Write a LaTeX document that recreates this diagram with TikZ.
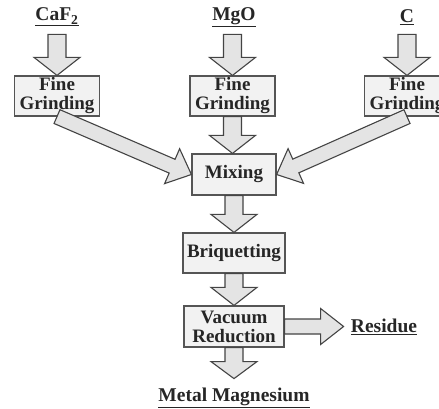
\documentclass[tikz,border=0pt]{standalone}
\usepackage{fontspec}
\setmainfont{Liberation Serif}
\usetikzlibrary{calc}
\definecolor{boxfill}{HTML}{F2F2F2}
\definecolor{boxline}{HTML}{555555}
\definecolor{arrfill}{HTML}{E4E4E4}
\definecolor{arrline}{HTML}{444444}
\definecolor{txt}{HTML}{262626}
\tikzset{
  procbox/.style={draw=boxline, fill=boxfill, line width=1.2pt, minimum width=85pt,
    minimum height=40pt, inner sep=0pt, align=center,
    font=\fontsize{19}{19}\selectfont\bfseries, text=txt},
  lab/.style={font=\fontsize{19.5}{20}\selectfont\bfseries, text=txt, inner sep=0pt},
  flowarr/.style={draw=arrline, fill=arrfill, line width=1.1pt, line join=miter},
}
% #1 shaft half width, #2 head half width, #3 head length, #4 from, #5 to
\newcommand{\flowarrow}[5]{%
  \coordinate (fa-h) at ($(#5)!#3!(#4)$);
  \draw[flowarr] ($(#4)!#1!90:(#5)$) -- ($(fa-h)!#1!90:(#5)$) -- ($(fa-h)!#2!90:(#5)$)
    -- (#5) -- ($(fa-h)!#2!-90:(#5)$) -- ($(fa-h)!#1!-90:(#5)$) -- ($(#4)!#1!-90:(#5)$) -- cycle;
}
\begin{document}
\begin{tikzpicture}[x=1pt, y=-1pt]
\useasboundingbox (0,0) rectangle (439,409);
\clip (0,0) rectangle (439,409);
% labels
\node[lab] (caf) at (57,17) {\underline{CaF\textsubscript{2}}};
\node[lab] (mgo) at (234,17) {\underline{MgO}};
\node[lab] (c) at (407,17) {\underline{C}};
% boxes
\node[procbox] (fg1) at (57,96) {Fine\\Grinding};
\node[procbox] (fg2) at (232.5,96) {Fine\\Grinding};
\node[procbox] (fg3) at (407,96) {Fine\\Grinding};
\node[procbox, minimum width=84pt, minimum height=41pt] (mix) at (234,174.5) {Mixing};
\node[procbox, minimum width=102pt] (briq) at (234,253) {Briquetting};
\node[procbox, minimum width=100pt, minimum height=41pt] (vac) at (234,326.5) {Vacuum\\Reduction};
\node[lab] (res) at (384,327) {\underline{Residue}};
\node[lab] (metal) at (234,398) {\underline{Metal Magnesium}};
% coordinates
\coordinate (t1) at ($(fg1.north)+(0,-41)$);
\coordinate (t2) at ($(fg2.north)+(0,-41)$);
\coordinate (t3) at ($(fg3.north)+(0,-41)$);
\coordinate (mixtop) at (fg2.south |- mix.north);
\coordinate (metaltop) at ($(vac.south)+(0,31)$);
\coordinate (restip) at ($(vac.east)+(59,0)$);
% arrows
\flowarrow{9pt}{23pt}{18pt}{t1}{fg1.north}
\flowarrow{9pt}{23pt}{18pt}{t2}{fg2.north}
\flowarrow{9pt}{23pt}{18pt}{t3}{fg3.north}
\flowarrow{9pt}{23pt}{18pt}{fg2.south}{mixtop}
\flowarrow{9pt}{23pt}{18pt}{mix.south}{briq.north}
\flowarrow{9pt}{23pt}{18pt}{briq.south}{vac.north}
\flowarrow{9pt}{23pt}{17pt}{vac.south}{metaltop}
\flowarrow{7.5pt}{18pt}{23pt}{vac.east}{restip}
\flowarrow{7.5pt}{19pt}{21pt}{fg1.south}{mix.west}
\flowarrow{7.5pt}{19pt}{21pt}{fg3.south}{mix.east}
\end{tikzpicture}
\end{document}
